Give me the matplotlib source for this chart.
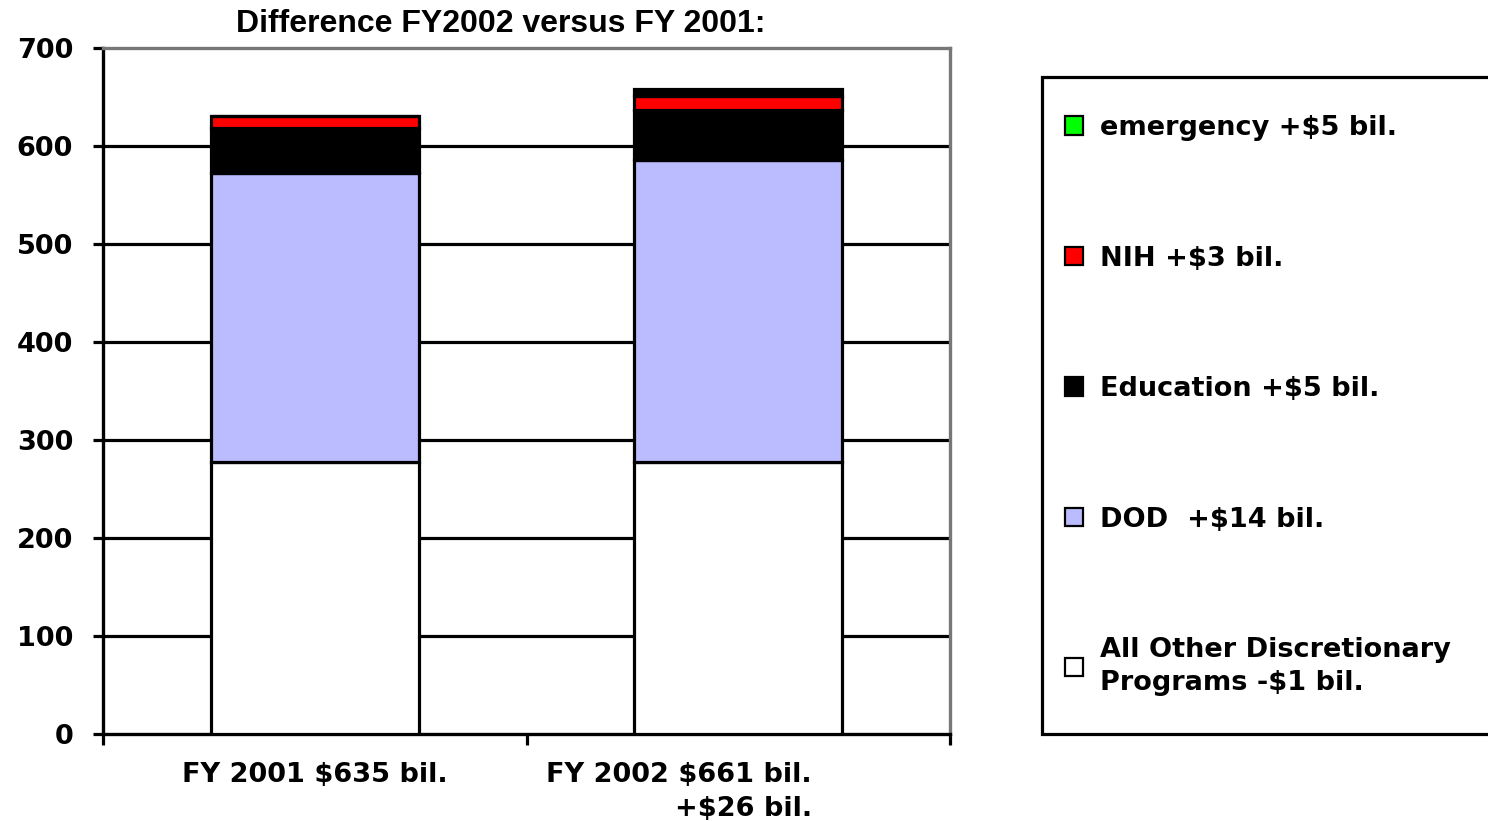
import matplotlib
matplotlib.use("Agg")
import matplotlib.pyplot as plt
import matplotlib.transforms as mtransforms
from matplotlib.patches import Patch, Rectangle
import numpy as np

# ---- data ----
categories = ["FY 2001 $635 bil.", "FY 2002 $661 bil.\n+$26 bil."]
series_names = ["All Other Discretionary\nPrograms -$1 bil.", "DOD  +$14 bil.",
                "Education +$5 bil.", "NIH +$3 bil.", "emergency +$5 bil."]
all_other = [278, 278]
dod = [294, 308]
education = [46, 51]
nih = [13, 14]
emergency = [0, 7]
yticks = [0, 100, 200, 300, 400, 500, 600, 700]

# ---- styling ----
bar_colors = ["#ffffff", "#bbbbff", "#000000", "#ff0000", "#000000"]
legend_colors = ["#ffffff", "#bbbbff", "#000000", "#ff0000", "#00ff00"]
FS = 19.5
font_main = "DejaVu Sans"

W, H = 1488, 821
fig = plt.figure(figsize=(W / 100, H / 100), dpi=100)
ax = fig.add_axes([103 / W, 1 - 734 / H, (950 - 103) / W, (734 - 48) / H])

x = np.arange(len(categories))
stack = [all_other, dod, education, nih, emergency]
bottom = np.zeros(len(categories))
for vals, col in zip(stack, bar_colors):
    vals = np.array(vals, dtype=float)
    ax.bar(x, vals, width=0.49, bottom=bottom, color=col, edgecolor="black",
           linewidth=2.3, zorder=3)
    bottom += vals

ax.set_xlim(-0.5, 1.5)
ax.set_ylim(0, 700)

# horizontal gridlines (not at 0/700 which are frame lines)
for yv in yticks[1:-1]:
    ax.axhline(yv, color="black", linewidth=2.3, zorder=1)

ax.set_yticks(yticks)
ax.set_yticklabels([str(v) for v in yticks], fontsize=FS, fontweight="bold",
                   family=font_main)
ax.tick_params(axis="y", length=7.5, width=2.3, pad=14, color="black")

# category boundaries as major ticks, labels at minor ticks
ax.set_xticks([-0.5, 0.5, 1.5])
ax.set_xticklabels([])
ax.tick_params(axis="x", which="major", length=8, width=2.3, direction="out")
ax.set_xticks(x, minor=True)
ax.set_xticklabels(categories, minor=True, fontsize=FS, fontweight="bold",
                   family=font_main, linespacing=1.42, multialignment="right")
ax.tick_params(axis="x", which="minor", length=0, pad=20)
lbls = ax.get_xticklabels(minor=True)
offset = mtransforms.ScaledTranslation(-59 / 100, 0, fig.dpi_scale_trans)
lbls[1].set_transform(lbls[1].get_transform() + offset)

for side in ["left", "bottom"]:
    ax.spines[side].set_color("black")
    ax.spines[side].set_linewidth(2.4)
for side in ["top", "right"]:
    ax.spines[side].set_color("#777777")
    ax.spines[side].set_linewidth(2.4)

# title
fig.text(501 / W, 1 - 24 / H, "Difference FY2002 versus FY 2001:",
         ha="center", va="center", fontsize=23, fontweight="bold",
         family="Liberation Sans")

# legend frame (extends past the right edge, as in the reference)
fig.patches.append(Rectangle((1042 / W, 1 - 734 / H), (1520 - 1042) / W, (734 - 77) / H,
                             transform=fig.transFigure, facecolor="white",
                             edgecolor="black", linewidth=2.3, zorder=0))

# legend (top entry first, like the reference)
handles = [Patch(facecolor=c, edgecolor="black", linewidth=1.6)
           for c in legend_colors[::-1]]
leg = fig.legend(handles, series_names[::-1], loc="upper left",
                 bbox_to_anchor=(1065 / W, 1 - 115 / H), bbox_transform=fig.transFigure,
                 borderaxespad=0, frameon=False, handlelength=0.68, handleheight=0.68,
                 handletextpad=0.62, labelspacing=3.86, borderpad=0,
                 prop={"family": font_main, "weight": "bold", "size": FS})
for t in leg.get_texts():
    t.set_linespacing(1.32)

fig.savefig("out.png", dpi=100)
